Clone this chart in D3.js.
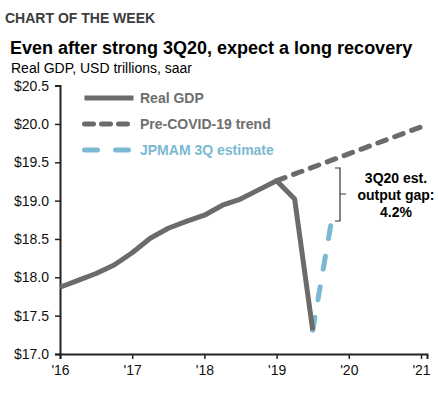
<!DOCTYPE html>
<html>
<head>
<meta charset="utf-8">
<script src="https://cdn.jsdelivr.net/npm/d3@7"></script>
<style>
  body { margin: 0; background: #fff; }
  svg { display: block; font-family: "Liberation Sans", Arial, sans-serif; }
</style>
</head>
<body>
<div id="chart-area"></div>
<script>
// quarterly data, decimal year position on the x axis
var gdpTime = [2016.0, 2016.25, 2016.5, 2016.75, 2017.0, 2017.25, 2017.5, 2017.75,
               2018.0, 2018.25, 2018.5, 2018.75, 2019.0, 2019.25, 2019.5];
var gdpValues = [17.87, 17.96, 18.05, 18.16, 18.32, 18.51, 18.64, 18.73,
                 18.81, 18.94, 19.02, 19.14, 19.26, 19.02, 17.31];
var trendTime = [2019.0, 2021.083];
var trendValues = [19.26, 19.99];
var estTime = [2019.5, 2019.75];
var estValues = [17.31, 18.68];
var yTicks = [17.0, 17.5, 18.0, 18.5, 19.0, 19.5, 20.0, 20.5];
var xTicks = [2016, 2017, 2018, 2019, 2020, 2021];
var xTickLabels = ["'16", "'17", "'18", "'19", "'20", "'21"];
var legendNames = ["Real GDP", "Pre-COVID-19 trend", "JPMAM 3Q estimate"];
var gapLabel = ["3Q20 est.", "output gap:", "4.2%"];

var width = 438, height = 397;
var grey = "#6b6b6b", blue = "#7bb9d2";

var svg = d3.select("#chart-area").append("svg")
    .attr("width", width)
    .attr("height", height);

var x = d3.scaleLinear().domain([2016, 2021.083]).range([60, 427]);
var y = d3.scaleLinear().domain([17, 20.5]).range([354, 85.6]);

// headings
svg.append("text")
    .attr("x", 5).attr("y", 23)
    .attr("font-family", "'Liberation Sans Narrow', 'Arial Narrow', sans-serif")
    .attr("font-weight", "bold")
    .attr("font-size", "14px")
    .attr("fill", "#3d3d3d")
    .text("CHART OF THE WEEK");
svg.append("text")
    .attr("x", 10).attr("y", 54)
    .attr("font-weight", "bold")
    .attr("font-size", "18px")
    .attr("fill", "#000")
    .text("Even after strong 3Q20, expect a long recovery");
svg.append("text")
    .attr("x", 11).attr("y", 73)
    .attr("font-size", "14px")
    .attr("fill", "#000")
    .text("Real GDP, USD trillions, saar");

// axes
var leftAxis = d3.axisLeft(y)
    .tickValues(yTicks)
    .tickSize(5)
    .tickPadding(6)
    .tickFormat(function(d) { return "$" + d3.format(".1f")(d); });
var bottomAxis = d3.axisBottom(x)
    .tickValues(xTicks)
    .tickSize(5)
    .tickPadding(6)
    .tickFormat(function(d, i) { return xTickLabels[i]; });

var ya = svg.append("g")
    .attr("transform", "translate(60,0)")
    .call(leftAxis);
var xa = svg.append("g")
    .attr("transform", "translate(0,354)")
    .call(bottomAxis);
[ya, xa].forEach(function(a) {
  a.select(".domain").attr("stroke", "#222").attr("stroke-width", 2);
  a.selectAll(".tick line").attr("stroke", "#222").attr("stroke-width", 1.5);
  a.selectAll("text").attr("font-size", "14px").attr("fill", "#111")
      .attr("font-family", "'Liberation Sans', Arial, sans-serif");
});

var line = d3.line()
    .x(function(d) { return x(d[0]); })
    .y(function(d) { return y(d[1]); });

// pre-covid trend
svg.append("path")
    .datum(d3.zip(trendTime, trendValues))
    .attr("d", line)
    .attr("fill", "none")
    .attr("stroke", grey)
    .attr("stroke-width", 5)
    .attr("stroke-linecap", "round")
    .attr("stroke-dasharray", "9,9");

// estimate
svg.append("path")
    .datum(d3.zip(estTime, estValues))
    .attr("d", line)
    .attr("fill", "none")
    .attr("stroke", blue)
    .attr("stroke-width", 5)
    .attr("stroke-linecap", "round")
    .attr("stroke-dasharray", "13,18");

// real GDP
svg.append("path")
    .datum(d3.zip(gdpTime, gdpValues))
    .attr("d", line)
    .attr("fill", "none")
    .attr("stroke", grey)
    .attr("stroke-width", 5)
    .attr("stroke-linejoin", "round");

// legend
var legend = svg.append("g");
var styles = [
  {color: grey, dash: null},
  {color: grey, dash: "9,8"},
  {color: blue, dash: "13,18"}
];
legendNames.forEach(function(name, i) {
  var row = legend.append("g")
      .attr("transform", "translate(0," + (98 + i * 26) + ")");
  row.append("line")
      .attr("x1", 84.5).attr("x2", 133.5)
      .attr("stroke", styles[i].color)
      .attr("stroke-width", 5)
      .attr("stroke-linecap", styles[i].dash ? "round" : "butt")
      .attr("stroke-dasharray", styles[i].dash);
  row.append("text")
      .attr("x", 140).attr("y", 5)
      .attr("font-size", "14px")
      .attr("font-weight", "bold")
      .attr("fill", i == 2 ? blue : "#6e6e6e")
      .text(name);
});

// output gap bracket
var bx = 340, bTop = 168, bBot = 221, bMid = 194;
svg.append("path")
    .attr("d", "M" + (bx - 5) + "," + bTop + "H" + bx + "V" + bBot + "H" + (bx - 5) +
               "M" + bx + "," + bMid + "H" + (bx + 6))
    .attr("fill", "none")
    .attr("stroke", "#333")
    .attr("stroke-width", 1.2);

gapLabel.forEach(function(t, i) {
  svg.append("text")
      .attr("x", 396)
      .attr("y", 183 + i * 17)
      .attr("text-anchor", "middle")
      .attr("font-size", "14px")
      .attr("font-weight", "bold")
      .attr("fill", "#000")
      .text(t);
});
</script>
</body>
</html>
